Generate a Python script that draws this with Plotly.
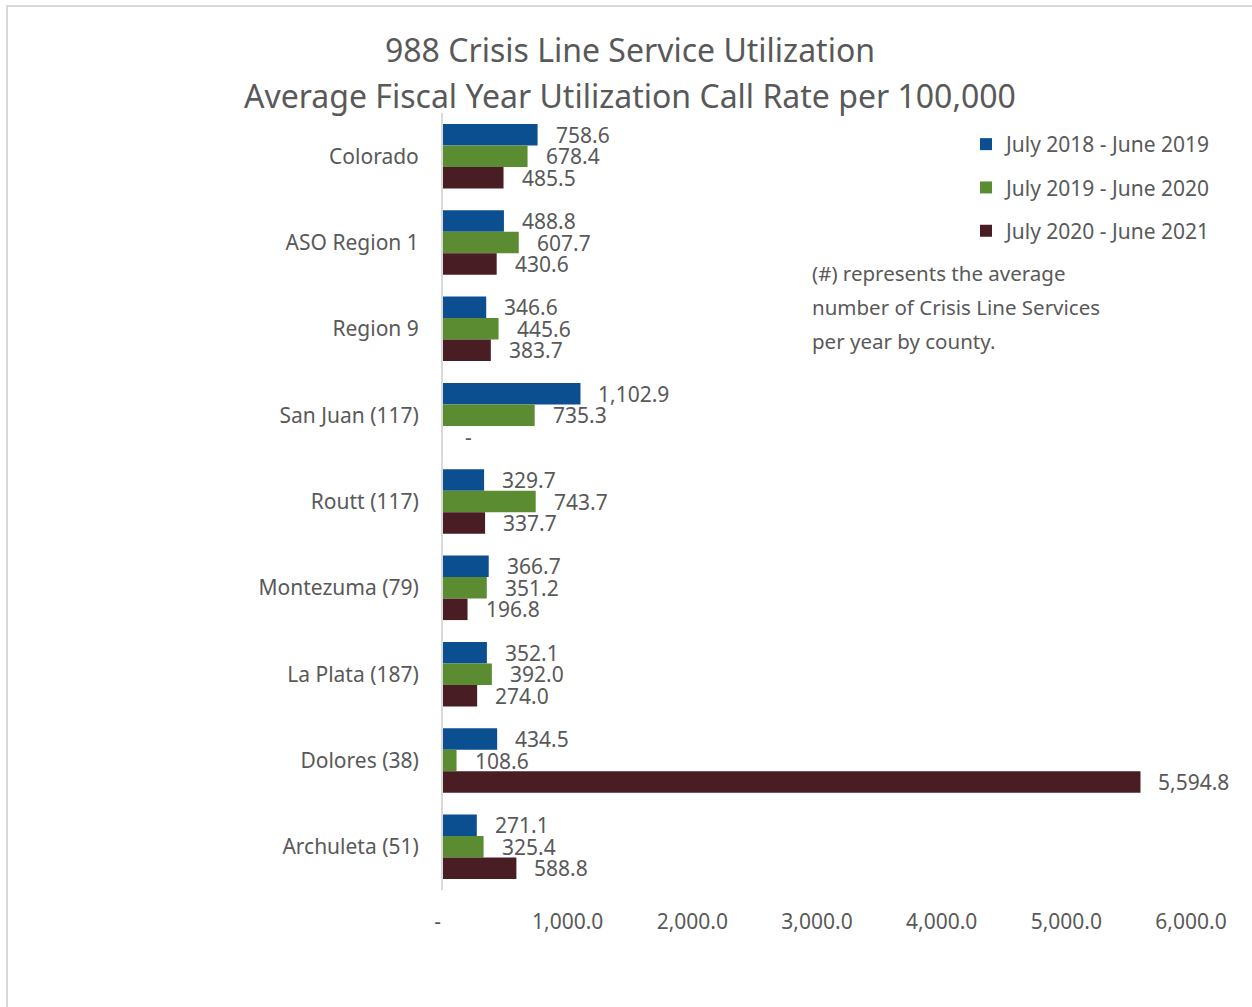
import plotly.graph_objects as go

# Chart data
regions = ["Colorado", "ASO Region 1", "Region 9", "San Juan (117)", "Routt (117)",
           "Montezuma (79)", "La Plata (187)", "Dolores (38)", "Archuleta (51)"]
series_names = ["July 2018 - June 2019", "July 2019 - June 2020", "July 2020 - June 2021"]
fy2019 = [758.6, 488.8, 346.6, 1102.9, 329.7, 366.7, 352.1, 434.5, 271.1]
fy2020 = [678.4, 607.7, 445.6, 735.3, 743.7, 351.2, 392.0, 108.6, 325.4]
fy2021 = [485.5, 430.6, 383.7, 0.0, 337.7, 196.8, 274.0, 5594.8, 588.8]
x_ticks = [0, 1000, 2000, 3000, 4000, 5000, 6000]
x_tick_labels = ["-&nbsp;&nbsp;", "1,000.0", "2,000.0", "3,000.0", "4,000.0", "5,000.0", "6,000.0"]
note_lines = ["(#) represents the average", "number of Crisis Line Services", "per year by county."]
title_lines = ["988 Crisis Line Service Utilization",
               "Average Fiscal Year Utilization Call Rate per 100,000"]

colors = ["#0c4f91", "#5b8c32", "#481d24"]
TEXT = "#595959"
FONT = "Noto Sans"

W, H = 1252, 1007
L, R, T, B = 443, 1191, 113, 890  # plot area in pixels


def px_x(p):
    return (p - L) / (R - L)


def px_y(p):
    return (B - p) / (B - T)


def fmt(v):
    return "-" if v == 0 else f"{v:,.1f}"


fig = go.Figure()
for name, vals, col in zip(series_names, [fy2019, fy2020, fy2021], colors):
    fig.add_trace(go.Bar(
        y=regions, x=vals, name=name, orientation="h",
        marker=dict(color=col, line=dict(width=0)),
        legendgroup=name,
    ))

# Value labels to the right of each bar
annotations = []
bar_px = (B - T) / len(regions) * (1 - 0.253) / 3
for k, vals in enumerate([fy2019, fy2020, fy2021]):
    for reg, v in zip(regions, vals):
        annotations.append(dict(
            x=v, y=reg, xref="x", yref="y", text=fmt(v), showarrow=False,
            xanchor="left", yanchor="middle", xshift=16 if v else 20,
            yshift=(1 - k) * bar_px,
            font=dict(family=FONT, size=21, color=TEXT),
        ))

# Two-line title
for line, ty in zip(title_lines, [50, 96]):
    annotations.append(dict(
        x=px_x(630), y=px_y(ty), xref="paper", yref="paper", text=line,
        showarrow=False, xanchor="center", yanchor="middle",
        font=dict(family=FONT, size=32, color=TEXT),
    ))

# Explanatory note
for line, ty in zip(note_lines, [273, 307, 341]):
    annotations.append(dict(
        x=px_x(810), y=px_y(ty), xref="paper", yref="paper", text=line,
        showarrow=False, xanchor="left", yanchor="middle",
        font=dict(family=FONT, size=20.5, color=TEXT),
    ))

fig.update_layout(
    width=W, height=H,
    margin=dict(l=L, r=W - R, t=T, b=H - B, pad=0),
    paper_bgcolor="white", plot_bgcolor="white",
    barmode="group", bargap=0.253, bargroupgap=0,
    font=dict(family=FONT, size=21, color=TEXT),
    showlegend=True,
    legend=dict(
        x=px_x(966), y=px_y(124), xanchor="left", yanchor="top",
        font=dict(family=FONT, size=21, color=TEXT),
        tracegroupgap=13, bgcolor="rgba(0,0,0,0)", traceorder="grouped",
    ),
    annotations=annotations,
    shapes=[dict(
        type="rect", xref="paper", yref="paper",
        x0=px_x(7), x1=px_x(1270), y0=px_y(1030), y1=px_y(6),
        line=dict(color="#d9d9d9", width=2), fillcolor="rgba(0,0,0,0)", layer="below",
    )],
)

fig.update_xaxes(
    range=[0, 6000], tickvals=x_ticks, ticktext=x_tick_labels,
    showgrid=False, zeroline=False, showline=False,
    ticks="", ticklabelstandoff=17,
    tickfont=dict(family=FONT, size=21, color=TEXT),
)
fig.update_yaxes(
    autorange="reversed", showgrid=False, zeroline=False,
    showline=True, linecolor="#d9d9d9", linewidth=2,
    ticks="", ticklabelstandoff=18,
    tickfont=dict(family=FONT, size=21, color=TEXT),
)

fig.write_html("out.html")
